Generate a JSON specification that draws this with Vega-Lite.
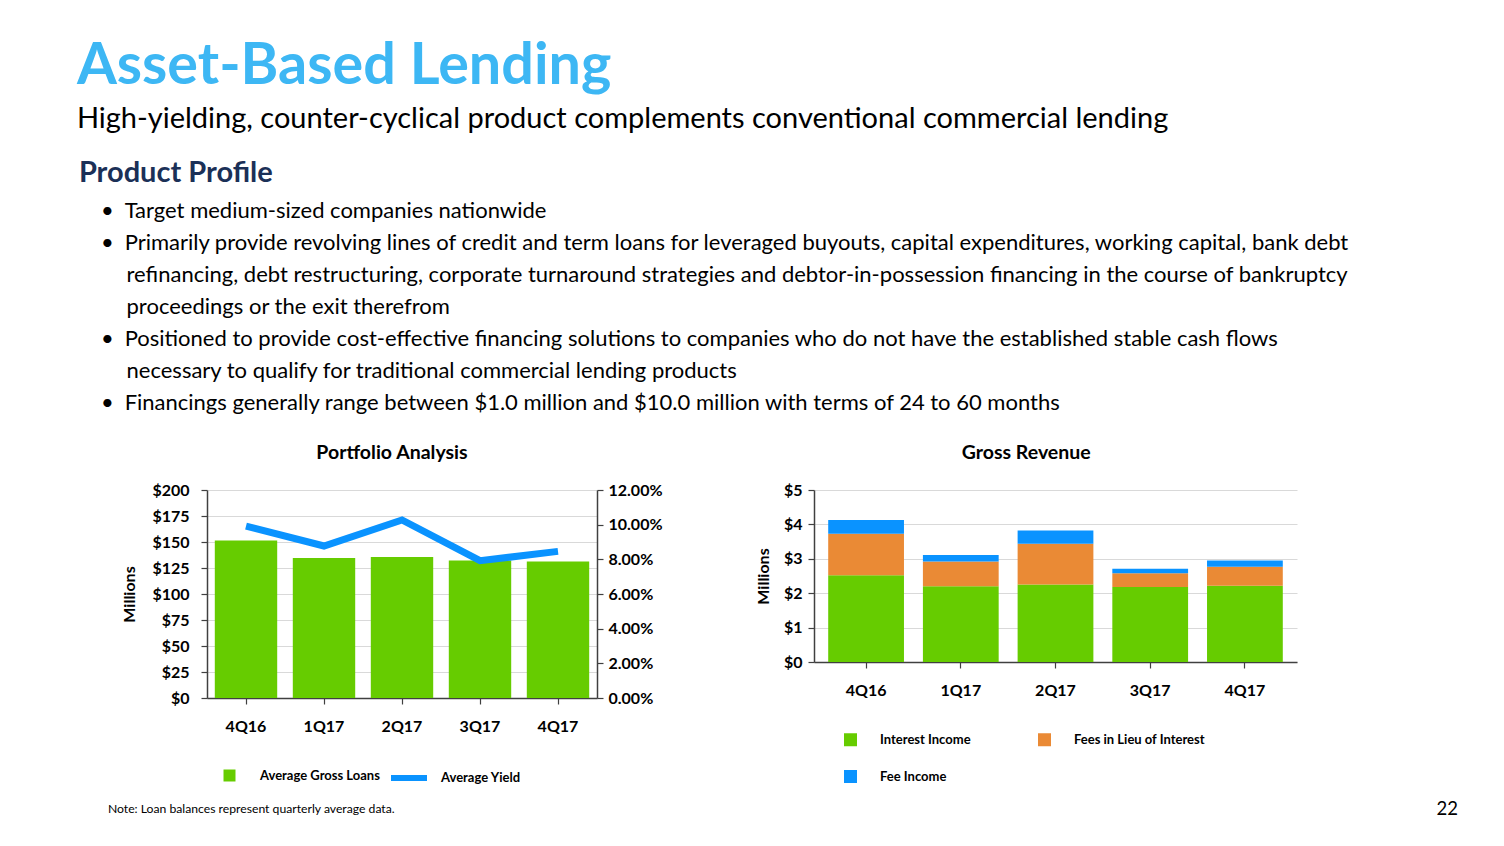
{
  "$schema": "https://vega.github.io/schema/vega-lite/v6.json",
  "background": "white",
  "padding": {"left": 76, "top": 38, "right": 10, "bottom": 10},
  "config": {
    "font": "Lato",
    "view": {"stroke": null},
    "axis": {
      "labelFont": "Lato", "labelFontWeight": "bold", "labelFontSize": 16, "labelColor": "#000000",
      "domainColor": "#404040", "domainWidth": 1.5, "tickColor": "#404040", "tickSize": 6, "tickWidth": 1.2,
      "gridColor": "#D9D9D9", "gridWidth": 1,
      "titleFont": "Lato", "titleFontWeight": "bold", "titleFontSize": 16, "titleColor": "#000000"
    },
    "legend": {"labelFont": "Lato", "labelFontWeight": "bold", "labelFontSize": 13, "labelColor": "#000000"}
  },
  "title": {
    "text": "Asset-Based Lending",
    "subtitle": "High-yielding, counter-cyclical product complements conventional commercial lending",
    "anchor": "start",
    "font": "Lato", "fontSize": 57.5, "fontWeight": "bold", "color": "#3DB7F4",
    "subtitleFont": "Lato", "subtitleFontSize": 29, "subtitleColor": "#000000", "subtitlePadding": 8,
    "offset": 24, "dx": -2
  },
  "vconcat": [
    {
      "title": {
        "text": "Product Profile",
        "subtitle": [
          "\u200b\u2002\u2002•\u2002Target medium-sized companies nationwide",
          "\u200b\u2002\u2002•\u2002Primarily provide revolving lines of credit and term loans for leveraged buyouts, capital expenditures, working capital, bank debt",
          "\u200b\u2002\u2002\u2002\u2002\u2006refinancing, debt restructuring, corporate turnaround strategies and debtor-in-possession financing in the course of bankruptcy",
          "\u200b\u2002\u2002\u2002\u2002\u2006proceedings or the exit therefrom",
          "\u200b\u2002\u2002•\u2002Positioned to provide cost-effective financing solutions to companies who do not have the established stable cash flows",
          "\u200b\u2002\u2002\u2002\u2002\u2006necessary to qualify for traditional commercial lending products",
          "\u200b\u2002\u2002•\u2002Financings generally range between $1.0 million and $10.0 million with terms of 24 to 60 months"
        ],
        "anchor": "start",
        "font": "Lato", "fontSize": 29, "fontWeight": "bold", "color": "#1B3057",
        "subtitleFont": "Lato", "subtitleFontSize": 22, "subtitleColor": "#000000",
        "subtitleLineHeight": 32, "subtitlePadding": 13,
        "dx": -29, "offset": 29
      },
      "vconcat": [
        {
          "title": {
            "text": "22", "orient": "bottom", "anchor": "end",
            "font": "Lato", "fontSize": 18.5, "fontWeight": "normal", "color": "#000000",
            "dx": 161, "dy": -19
          },
          "vconcat": [
            {
              "title": {
                "text": "Note: Loan balances represent quarterly average data.",
                "orient": "bottom", "anchor": "start",
                "font": "Lato", "fontSize": 12.2, "fontWeight": "normal", "color": "#000000",
                "dx": -14, "offset": 13
              },
              "spacing": 92,
              "resolve": {
                "scale": {"color": "independent", "fill": "independent", "stroke": "independent"},
                "legend": {"color": "independent", "fill": "independent", "stroke": "independent"}
              },
              "hconcat": [
                {
                  "width": 390,
                  "height": 208,
                  "title": {"text": "Portfolio Analysis", "font": "Lato", "fontSize": 19.5, "fontWeight": "bold", "color": "#000000", "offset": 19, "frame": "bounds"},
                  "data": {
                    "values": [
                      {"quarter": "4Q16", "loans": 151.4, "yield": 0.0992},
                      {"quarter": "1Q17", "loans": 134.5, "yield": 0.0877},
                      {"quarter": "2Q17", "loans": 135.5, "yield": 0.1027},
                      {"quarter": "3Q17", "loans": 132.3, "yield": 0.0792},
                      {"quarter": "4Q17", "loans": 131.2, "yield": 0.0846}
                    ]
                  },
                  "encoding": {
                    "x": {
                      "field": "quarter", "type": "ordinal", "sort": null,
                      "scale": {"paddingInner": 0.2, "paddingOuter": 0.1},
                      "axis": {"title": null, "labelAngle": 0, "labelPadding": 14}
                    }
                  },
                  "layer": [
                    {
                      "mark": {"type": "bar"},
                      "encoding": {
                        "y": {
                          "field": "loans", "type": "quantitative",
                          "scale": {"domain": [0, 200]},
                          "axis": {"title": "Millions", "values": [0, 25, 50, 75, 100, 125, 150, 175, 200], "labelExpr": "'$' + datum.value", "grid": true, "labelPadding": 12, "titlePadding": 14}
                        },
                        "fill": {
                          "datum": "Average Gross Loans",
                          "scale": {"range": ["#66CC00"]},
                          "legend": {"orient": "bottom", "title": null, "offset": 35, "symbolType": "square", "symbolSize": 144, "symbolOffset": 16, "labelOffset": 24, "symbolStrokeWidth": 0}
                        }
                      }
                    },
                    {
                      "mark": {"type": "line", "strokeWidth": 7},
                      "encoding": {
                        "y": {
                          "field": "yield", "type": "quantitative",
                          "scale": {"domain": [0, 0.12]},
                          "axis": {"orient": "right", "title": null, "format": ".2%", "values": [0, 0.02, 0.04, 0.06, 0.08, 0.1, 0.12], "grid": false, "labelPadding": 5}
                        },
                        "stroke": {
                          "datum": "Average Yield",
                          "scale": {"range": ["#0A93FF"]},
                          "legend": {"orient": "bottom", "title": null, "offset": 35, "symbolType": "M-1,0H5", "symbolSize": 144, "symbolStrokeWidth": 6, "labelOffset": 35}
                        }
                      }
                    }
                  ],
                  "resolve": {"scale": {"y": "independent"}}
                },
                {
                  "width": 483,
                  "height": 172,
                  "title": {"text": "Gross Revenue", "font": "Lato", "fontSize": 19.5, "fontWeight": "bold", "color": "#000000", "offset": 19, "frame": "bounds"},
                  "data": {
                    "values": [
                      {"quarter": "4Q16", "series": "Interest Income", "value": 2.52},
                      {"quarter": "4Q16", "series": "Fees in Lieu of Interest", "value": 1.21},
                      {"quarter": "4Q16", "series": "Fee Income", "value": 0.40},
                      {"quarter": "1Q17", "series": "Interest Income", "value": 2.20},
                      {"quarter": "1Q17", "series": "Fees in Lieu of Interest", "value": 0.72},
                      {"quarter": "1Q17", "series": "Fee Income", "value": 0.19},
                      {"quarter": "2Q17", "series": "Interest Income", "value": 2.25},
                      {"quarter": "2Q17", "series": "Fees in Lieu of Interest", "value": 1.19},
                      {"quarter": "2Q17", "series": "Fee Income", "value": 0.38},
                      {"quarter": "3Q17", "series": "Interest Income", "value": 2.18},
                      {"quarter": "3Q17", "series": "Fees in Lieu of Interest", "value": 0.40},
                      {"quarter": "3Q17", "series": "Fee Income", "value": 0.13},
                      {"quarter": "4Q17", "series": "Interest Income", "value": 2.22},
                      {"quarter": "4Q17", "series": "Fees in Lieu of Interest", "value": 0.55},
                      {"quarter": "4Q17", "series": "Fee Income", "value": 0.18}
                    ]
                  },
                  "mark": {"type": "bar"},
                  "encoding": {
                    "x": {
                      "field": "quarter", "type": "ordinal", "sort": null,
                      "scale": {"paddingInner": 0.2, "paddingOuter": 0.15},
                      "axis": {"title": null, "labelAngle": 0, "labelPadding": 14}
                    },
                    "y": {
                      "field": "value", "type": "quantitative", "stack": "zero",
                      "scale": {"domain": [0, 5]},
                      "axis": {"title": "Millions", "values": [0, 1, 2, 3, 4, 5], "labelExpr": "'$' + datum.value", "grid": true, "labelPadding": 6, "titlePadding": 12}
                    },
                    "color": {
                      "field": "series", "type": "nominal",
                      "scale": {"domain": ["Interest Income", "Fees in Lieu of Interest", "Fee Income"], "range": ["#66CC00", "#EA8A35", "#0A93FF"]},
                      "legend": {"orient": "bottom", "title": null, "offset": 35, "columns": 2, "symbolType": "square", "symbolSize": 169, "symbolOffset": 30, "labelOffset": 23, "columnPadding": 37, "rowPadding": 23, "symbolStrokeWidth": 0}
                    },
                    "order": {"field": "series", "sort": "descending"}
                  }
                }
              ]
            }
          ]
        }
      ]
    }
  ]
}
